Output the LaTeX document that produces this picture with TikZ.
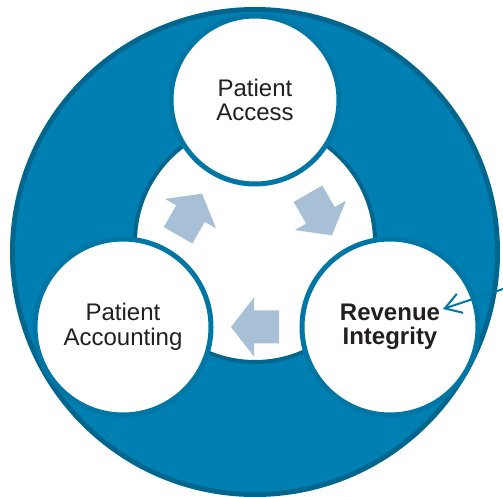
\documentclass[tikz,border=0pt]{standalone}
\usepackage{fontspec}
\setmainfont{Liberation Sans}
\usetikzlibrary{arrows.meta}
\definecolor{ringblue}{RGB}{0,128,178}
\definecolor{ringedge}{RGB}{0,102,142}
\definecolor{stageedge}{RGB}{0,118,165}
\definecolor{flowgray}{RGB}{168,192,214}
\definecolor{labelgray}{RGB}{35,31,32}

\tikzset{
  stage/.style={circle, draw=stageedge, line width=5pt, fill=white,
    minimum size=176pt, inner sep=0pt, align=center, text=labelgray,
    font=\fontsize{24}{24.5}\selectfont},
}

\begin{document}
\begin{tikzpicture}[x=1pt,y=1pt]
  \useasboundingbox (-255,-245) rectangle (248,252);
  % outer ring and the white hub
  \draw[ringedge, fill=ringblue, line width=5pt] (0,0) circle (242.5);
  \draw[ringedge, fill=white, line width=4pt] (0,10) circle (120);
  % the three stages
  \node[stage, minimum size=168pt] (access) at (0,152) {Patient\\Access};
  \node[stage] (accounting) at (-132,-75) {Patient\\Accounting};
  \node[stage, font=\fontsize{24}{24.5}\selectfont\bfseries] (revenue) at (135,-75) {Revenue\\Integrity};
  % block arrows between the stages
  \foreach \a in {150,30,270} {
    \fill[flowgray, shift={(\a:75)}, rotate=\a-90]
      (-24,-16.5) -- (1,-16.5) -- (1,-29.5) -- (24,0) -- (1,29.5) -- (1,16.5) -- (-24,16.5) -- cycle;
  }
  % pointer to the highlighted stage
  \coordinate (ptrtail) at (248,-37);
  \coordinate (ptrtip) at (188,-57);
  \draw[stageedge, line width=2pt, -{Straight Barb[length=16pt,width=20pt]}] (ptrtail) -- (ptrtip);
\end{tikzpicture}
\end{document}
